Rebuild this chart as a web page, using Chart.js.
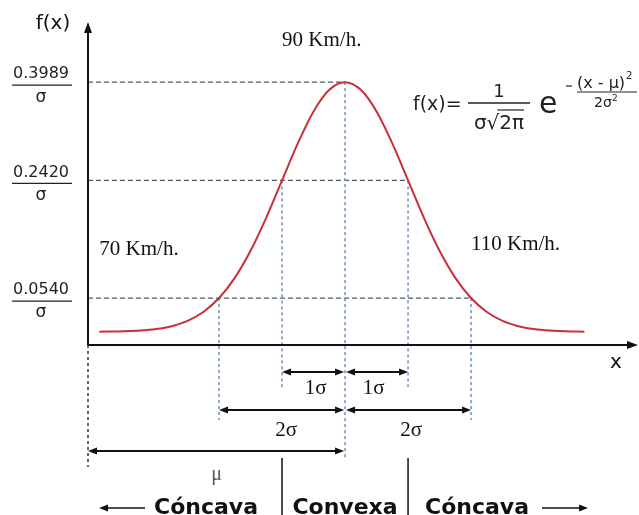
<!DOCTYPE html>
<html lang="es">
<head>
<meta charset="UTF-8">
<title>Distribución normal</title>
<script src="https://cdn.jsdelivr.net/npm/chart.js@4.4.1/dist/chart.umd.min.js"></script>
<style>
  html, body { margin: 0; padding: 0; background: #fff; }
  #bell { display: block; }
</style>
</head>
<body>
<canvas id="bell" width="639" height="515"></canvas>
<script>
// curve: x in sigma steps from the mean, y = f(x)·σ
const zValues = [-3.9, -3.5, -3.25, -3, -2.75, -2.5, -2.25, -2, -1.75, -1.5, -1.25, -1, -0.75, -0.5, -0.25, 0,
                 0.25, 0.5, 0.75, 1, 1.25, 1.5, 1.75, 2, 2.25, 2.5, 2.75, 3, 3.25, 3.5, 3.8];
const density = [0.0002, 0.0009, 0.0020, 0.0044, 0.0091, 0.0175, 0.0317, 0.0540, 0.0863, 0.1295, 0.1826, 0.2420, 0.3011, 0.3521, 0.3867, 0.3989,
                 0.3867, 0.3521, 0.3011, 0.2420, 0.1826, 0.1295, 0.0863, 0.0540, 0.0317, 0.0175, 0.0091, 0.0044, 0.0020, 0.0009, 0.0003];

// marked levels on the y axis and the sigma distance where the curve meets them
const levelValues = [0.3989, 0.2420, 0.0540];
const levelLabels = ['0.3989', '0.2420', '0.0540'];
const levelSigma = [0, 1, 2];

const speedLabels = ['70 Km/h.', '90 Km/h.', '110 Km/h.'];
const spanLabels = ['1σ', '2σ'];
const concavity = ['Cóncava', 'Convexa', 'Cóncava'];

function seg(ctx, x1, y1, x2, y2) {
  ctx.beginPath();
  ctx.moveTo(x1, y1);
  ctx.lineTo(x2, y2);
  ctx.stroke();
}

function head(ctx, x, y, dx, dy, len, wid) {
  // filled triangle with tip at x,y pointing along dx,dy
  const px = -dy, py = dx;
  ctx.beginPath();
  ctx.moveTo(x, y);
  ctx.lineTo(x - dx * len + px * wid / 2, y - dy * len + py * wid / 2);
  ctx.lineTo(x - dx * len - px * wid / 2, y - dy * len - py * wid / 2);
  ctx.closePath();
  ctx.fill();
}

function span(ctx, x1, x2, y) {
  seg(ctx, x1 + 4, y, x2 - 4, y);
  head(ctx, x1, y, -1, 0, 9, 7);
  head(ctx, x2, y, 1, 0, 9, 7);
}

const guides = {
  id: 'guides',
  beforeDatasetsDraw(chart) {
    const { ctx, chartArea: a } = chart;
    const x = chart.scales.x, y = chart.scales.y;
    const base = a.bottom;
    const drop = [113, 42, 75];
    ctx.save();
    ctx.strokeStyle = '#4d5a68';
    ctx.lineWidth = 1.3;
    ctx.setLineDash([5, 3]);
    levelValues.forEach((v, i) => {
      const py = y.getPixelForValue(v);
      seg(ctx, a.left, py, x.getPixelForValue(levelSigma[i]), py);
    });
    ctx.strokeStyle = '#7597bc';
    ctx.lineWidth = 1.6;
    ctx.setLineDash([3, 3]);
    levelValues.forEach((v, i) => {
      const py = y.getPixelForValue(v);
      const k = levelSigma[i];
      (k === 0 ? [0] : [-k, k]).forEach(s => {
        const px = x.getPixelForValue(s);
        seg(ctx, px, py, px, base + drop[i]);
      });
    });
    ctx.strokeStyle = '#333';
    ctx.lineWidth = 1.5;
    seg(ctx, a.left, base, a.left, base + 122);
    ctx.restore();
  },
  afterDraw(chart) {
    const { ctx, chartArea: a } = chart;
    const x = chart.scales.x, y = chart.scales.y;
    const base = a.bottom;
    const x0 = x.getPixelForValue(0);
    ctx.save();
    ctx.fillStyle = '#111';
    ctx.strokeStyle = '#111';

    // axes with arrows
    ctx.lineWidth = 2;
    seg(ctx, a.left, base, a.left, a.top + 8);
    head(ctx, a.left, a.top, 0, -1, 11, 8);
    seg(ctx, a.left, base, a.right - 8, base);
    head(ctx, a.right, base, 1, 0, 11, 8);

    ctx.font = '20px "DejaVu Sans"';
    ctx.textAlign = 'center';
    ctx.textBaseline = 'middle';
    ctx.fillText('f(x)', 53, 24);
    ctx.fillText('x', 616, base + 18);

    // y level labels as fractions over sigma
    ctx.fillStyle = '#222';
    ctx.strokeStyle = '#222';
    ctx.lineWidth = 1.3;
    levelValues.forEach((v, i) => {
      const py = y.getPixelForValue(v);
      ctx.font = '16px "DejaVu Sans"';
      ctx.fillText(levelLabels[i], 41, py - 8);
      seg(ctx, 12, py + 3, 72, py + 3);
      ctx.font = '17px "DejaVu Sans"';
      ctx.fillText('σ', 41, py + 15);
    });

    // speeds
    ctx.fillStyle = '#111';
    ctx.font = '21px "Liberation Serif"';
    ctx.textAlign = 'left';
    ctx.fillText(speedLabels[0], x.getPixelForValue(-3.9), y.getPixelForValue(0.131));
    ctx.fillText(speedLabels[1], x.getPixelForValue(-1), y.getPixelForValue(0.466));
    ctx.fillText(speedLabels[2], x.getPixelForValue(2.0), y.getPixelForValue(0.139));

    // interval arrows under the axis
    ctx.lineWidth = 2;
    ctx.strokeStyle = '#111';
    const r1 = base + 27, r2 = base + 65, r3 = base + 106;
    const xm1 = x.getPixelForValue(-1), xp1 = x.getPixelForValue(1);
    const xm2 = x.getPixelForValue(-2), xp2 = x.getPixelForValue(2);
    span(ctx, xm1, x0 - 1, r1);
    span(ctx, x0 + 1, xp1, r1);
    span(ctx, xm2, x0 - 1, r2);
    span(ctx, x0 + 1, xp2, r2);
    span(ctx, a.left, x0 - 1, r3);
    ctx.textAlign = 'center';
    ctx.font = '21px "Liberation Serif"';
    ctx.fillText(spanLabels[0], (xm1 + x0) / 2 + 2, base + 43);
    ctx.fillText(spanLabels[0], (x0 + xp1) / 2 - 3, base + 43);
    ctx.fillText(spanLabels[1], (xm2 + x0) / 2 + 4, base + 85);
    ctx.fillText(spanLabels[1], (x0 + xp2) / 2 + 3, base + 85);
    ctx.fillStyle = '#555';
    ctx.font = '20px "Liberation Serif"';
    ctx.fillText('μ', (a.left + x0) / 2, base + 130);

    // concavity strip
    ctx.fillStyle = '#111';
    ctx.lineWidth = 1.5;
    seg(ctx, xm1, base + 113, xm1, 515);
    seg(ctx, xp1, base + 113, xp1, 515);
    ctx.font = 'bold 22px "DejaVu Sans"';
    ctx.textBaseline = 'alphabetic';
    const ty = 514, ay = 508;
    ctx.textAlign = 'right';
    ctx.fillText(concavity[0], xm1 - 24, ty);
    const wl = ctx.measureText(concavity[0]).width;
    ctx.textAlign = 'center';
    ctx.fillText(concavity[1], x0, ty);
    ctx.textAlign = 'left';
    ctx.fillText(concavity[2], xp1 + 17, ty);
    const wr = ctx.measureText(concavity[2]).width;
    const ls = xm1 - 24 - wl - 9;
    seg(ctx, ls, ay, ls - 40, ay);
    head(ctx, ls - 46, ay, -1, 0, 9, 7);
    const rs = xp1 + 17 + wr + 13;
    seg(ctx, rs, ay, rs + 40, ay);
    head(ctx, rs + 46, ay, 1, 0, 9, 7);

    // formula
    ctx.fillStyle = '#222';
    ctx.strokeStyle = '#222';
    ctx.textBaseline = 'alphabetic';
    ctx.textAlign = 'left';
    ctx.font = '19px "DejaVu Sans"';
    ctx.fillText('f(x)=', 413, 110);
    ctx.textAlign = 'center';
    ctx.font = '18px "DejaVu Sans"';
    ctx.fillText('1', 499, 97);
    ctx.lineWidth = 1.4;
    seg(ctx, 468, 103, 530, 103);
    ctx.font = '20px "DejaVu Sans"';
    const den = 'σ√2π';
    const wd = ctx.measureText(den).width;
    ctx.fillText(den, 499, 129);
    const wsig = ctx.measureText('σ√').width;
    ctx.lineWidth = 1.2;
    seg(ctx, 499 - wd / 2 + wsig - 2, 110, 499 + wd / 2, 110);
    ctx.textAlign = 'left';
    ctx.font = '30px "DejaVu Sans"';
    ctx.fillText('e', 539, 113);
    ctx.lineWidth = 1.2;
    seg(ctx, 566, 86, 572, 86);
    ctx.font = '16px "DejaVu Sans"';
    ctx.fillText('(x - μ)', 577, 88);
    const wn = ctx.measureText('(x - μ)').width;
    ctx.font = '10px "DejaVu Sans"';
    ctx.fillText('2', 578 + wn, 79);
    seg(ctx, 577, 92, 637, 92);
    ctx.font = '14px "DejaVu Sans"';
    ctx.fillText('2σ', 594, 107);
    ctx.font = '9px "DejaVu Sans"';
    ctx.fillText('2', 612, 101);
    ctx.restore();
  }
};

new Chart(document.getElementById('bell'), {
  type: 'line',
  data: {
    datasets: [{
      data: zValues.map((z, i) => ({ x: z, y: density[i] })),
      borderColor: '#c92e3b',
      borderWidth: 2,
      pointRadius: 0,
      cubicInterpolationMode: 'monotone',
      fill: false
    }]
  },
  options: {
    responsive: false,
    animation: false,
    devicePixelRatio: 1,
    layout: { padding: { left: 88, right: 1, top: 22, bottom: 170 } },
    plugins: { legend: { display: false }, tooltip: { enabled: false } },
    scales: {
      x: { type: 'linear', min: -4.08, max: 4.65, display: false },
      y: { min: -0.021, max: 0.495, display: false }
    }
  },
  plugins: [guides]
});
</script>
</body>
</html>
